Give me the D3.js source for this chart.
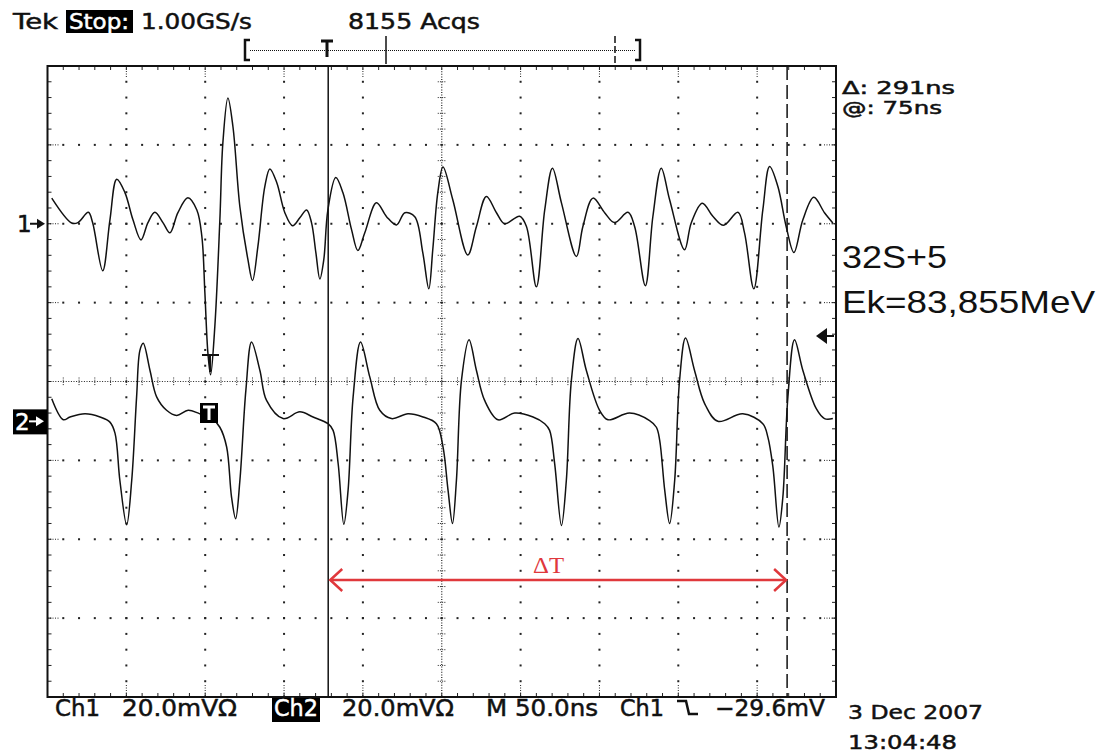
<!DOCTYPE html>
<html>
<head>
<meta charset="utf-8">
<script src="https://cdn.jsdelivr.net/npm/d3@7"></script>
<style>
  html, body { margin: 0; padding: 0; background: #fff; }
  svg { display: block; }
</style>
</head>
<body>
<div id="scope"></div>
<script>
// Oscilloscope capture: two channels, 50 ns/div, 20 mV/div

// time in ns, voltage in mV (relative to each channel's ground marker)
var ch1Trace = [
  [2.7, 6.5], [15.3, 0.2], [19.3, 0.3], [25.9, 2.9], [28.6, 0.3], [35.0, -11.9],
  [39.6, 1.0], [43.9, 11.3], [49.1, 7.9], [54.2, 1.0], [59.3, -4.1], [63.7, 0.3],
  [68.1, 2.9], [73.2, 0.3], [77.6, -2.3], [82.7, 2.8], [89.0, 6.6], [94.7, 3.5],
  [97.9, -3.3], [99.8, -17.5], [101.7, -32.7], [103.4, -38.3], [106.1, -26.1],
  [109.3, 1.0], [111.2, 20.5], [114.4, 31.9], [117.6, 24.6], [122.0, 4.3],
  [127.1, -9.1], [130.0, -14.4], [133.4, -5.8], [137.8, 9.4], [141.0, 13.9],
  [145.4, 10.4], [150.5, 2.8], [155.4, -0.5], [160.0, 1.5], [164.3, 3.5],
  [167.4, 0.3], [170.2, -7.4], [172.7, -14.0], [175.2, -9.1], [177.8, 3.5],
  [182.8, 11.7], [187.3, 7.9], [192.8, -1.5], [196.8, -6.8], [201.2, -2.3],
  [208.6, 5.3], [215.0, 1.8], [221.3, -0.3], [226.6, 2.8], [232.9, 1.8],
  [238.0, -7.4], [241.8, -16.5], [244.3, -6.6], [247.5, 7.9], [250.8, 14.4],
  [257.0, 6.1], [266.5, -7.9], [272.0, -0.7], [278.3, 6.9], [284.7, 2.8],
  [289.9, 0.0], [299.4, 1.9], [303.7, -0.7], [310.0, -16.0], [315.3, 3.5],
  [320.2, 14.1], [325.9, 5.3], [335.4, -8.3], [339.5, -0.7], [345.9, 6.5],
  [353.3, 2.8], [359.6, 0.3], [368.1, 2.9], [372.3, -0.7], [379.1, -15.7],
  [383.9, 1.9], [389.2, 14.1], [394.5, 6.1], [404.0, -6.6], [408.2, 0.2],
  [415.2, 5.2], [421.9, 1.9], [428.7, -0.4], [437.8, 2.9], [442.0, -2.3],
  [447.9, -16.5], [453.6, 3.5], [457.9, 14.5], [463.1, 9.5], [468.4, -0.7],
  [473.3, -7.3], [479.0, 1.0], [485.9, 6.7], [492.7, 2.8], [498.0, 0.2]
]

var ch2Trace = [
  [2.7, 5.2], [10.0, -0.1], [14.3, 0.6], [23.8, 1.4], [33.3, 0.6], [39.6, -0.7],
  [42.8, -3.5], [45.9, -15.5], [50.2, -26.7], [53.4, -15.5], [56.5, 5.7],
  [58.6, 17.5], [60.7, 19.3], [65.0, 12.4], [69.2, 5.7], [75.5, 2.3], [81.9, 1.0],
  [89.2, 2.3], [96.6, 1.4], [104.2, 0.3], [109.3, -2.0], [113.6, -7.0],
  [116.7, -19.7], [119.3, -25.2], [122.0, -15.5], [125.8, 7.4], [129.4, 19.6],
  [134.7, 12.4], [138.9, 4.8], [149.4, 0.2], [160.0, 1.9], [168.4, 0.6],
  [177.9, -1.1], [181.1, -2.8], [184.3, -11.2], [187.9, -26.6], [190.6, -18.0],
  [193.8, 5.7], [198.5, 19.6], [204.4, 10.7], [210.7, 2.3], [218.1, 0.2],
  [228.6, 1.4], [238.1, 0.6], [246.6, -1.1], [250.8, -7.0], [254.0, -18.0],
  [256.8, -26.4], [259.3, -15.5], [262.5, 9.9], [267.3, 20.2], [272.0, 12.4],
  [277.2, 4.8], [285.7, -0.1], [296.3, 1.6], [307.9, 0.6], [315.3, -1.1],
  [318.4, -2.8], [321.6, -11.2], [325.9, -26.9], [329.0, -15.5], [332.2, 9.9],
  [336.4, 20.5], [341.7, 12.4], [350.1, 2.3], [355.4, -0.1], [369.1, 1.6],
  [381.8, -0.3], [386.1, -2.0], [388.2, -5.3], [391.4, -18.0], [394.5, -26.4],
  [397.7, -15.5], [400.8, 9.9], [404.6, 20.6], [410.3, 12.4], [416.7, 4.0],
  [425.1, -0.5], [440.9, 1.4], [453.6, -1.1], [456.8, -4.5], [460.0, -12.1],
  [463.8, -27.3], [466.3, -19.7], [469.5, 5.7], [473.7, 20.2], [479.0, 12.4],
  [487.5, 2.7], [492.7, 0.2], [498.0, 0.2]
]

// vertical position of each channel's ground marker, in divisions from centre
var channelPos = [2, -0.48]
var voltsPerDiv = [20, 20]

// time/div and the two cursors (ns)
var timePerDiv = 50
var cursors = [178, 469]

// screen text
var headerText = ['Tek', 'Stop:', '1.00GS/s', '8155 Acqs']
var footerText = ['Ch1', '20.0mV\u03a9', 'Ch2', '20.0mV\u03a9', 'M 50.0ns', 'Ch1', '\u221229.6mV']
var dateText = ['3 Dec 2007', '13:04:48']
var cursorText = ['\u0394: 291ns', '@: 75ns']
var noteText = ['32S+5', 'Ek=83,855MeV']

var W = 1104, H = 755
var L = 47.5, R = 836, T = 66, B = 697

var svg = d3.select('#scope').append('svg')
  .attr('width', W).attr('height', H)

var x = d3.scaleLinear().domain([0, 10 * timePerDiv]).range([L, R])
var xDiv = d3.scaleLinear().domain([0, 10]).range([L, R])
var yDiv = d3.scaleLinear().domain([-4, 4]).range([B, T])

var minorX = d3.range(0, 10.001, 0.2)
var minorY = d3.range(-4, 4.001, 0.2)

// ---- graticule ----
var grid = svg.append('g')

// dotted major lines (every minor step)
d3.range(1, 10).filter(function(i) { return i !== 5 }).forEach(function(i) {
  grid.selectAll(null).data(minorY.slice(1, -1)).enter().append('rect')
    .attr('x', xDiv(i) - 1).attr('y', function(d) { return yDiv(d) - 1 })
    .attr('width', 2).attr('height', 2).attr('fill', '#222')
  grid.append('line').attr('y1', T).attr('y2', T + 12).attr('x1', xDiv(i)).attr('x2', xDiv(i))
    .attr('stroke', '#222').attr('stroke-dasharray', '1,1.5')
  grid.append('line').attr('y1', B - 12).attr('y2', B).attr('x1', xDiv(i)).attr('x2', xDiv(i))
    .attr('stroke', '#222').attr('stroke-dasharray', '1,1.5')
})
d3.range(-3, 4).filter(function(j) { return j !== 0 }).forEach(function(j) {
  grid.selectAll(null).data(minorX.slice(1, -1)).enter().append('rect')
    .attr('x', function(d) { return xDiv(d) - 1 }).attr('y', yDiv(j) - 1)
    .attr('width', 2).attr('height', 2).attr('fill', '#222')
  // short dotted stubs at the borders
  grid.append('line').attr('x1', L).attr('x2', L + 12).attr('y1', yDiv(j)).attr('y2', yDiv(j))
    .attr('stroke', '#222').attr('stroke-dasharray', '1,1.5')
  grid.append('line').attr('x1', R - 12).attr('x2', R).attr('y1', yDiv(j)).attr('y2', yDiv(j))
    .attr('stroke', '#222').attr('stroke-dasharray', '1,1.5')
})

// centre lines with ticks
grid.append('line')
  .attr('x1', xDiv(5)).attr('x2', xDiv(5)).attr('y1', T).attr('y2', B)
  .attr('stroke', '#222').attr('stroke-width', 1.2).attr('stroke-dasharray', '1,1.6')
grid.append('line')
  .attr('x1', L).attr('x2', R).attr('y1', yDiv(0)).attr('y2', yDiv(0))
  .attr('stroke', '#222').attr('stroke-width', 1.2).attr('stroke-dasharray', '1,1.6')
grid.selectAll(null).data(minorY).enter().append('line')
  .attr('x1', xDiv(5) - 4).attr('x2', xDiv(5) + 4)
  .attr('y1', function(d) { return yDiv(d) }).attr('y2', function(d) { return yDiv(d) })
  .attr('stroke', '#222').attr('stroke-dasharray', '1,1.2')
grid.selectAll(null).data(minorX).enter().append('line')
  .attr('y1', yDiv(0) - 4).attr('y2', yDiv(0) + 4)
  .attr('x1', function(d) { return xDiv(d) }).attr('x2', function(d) { return xDiv(d) })
  .attr('stroke', '#222').attr('stroke-dasharray', '1,1.2')

// border ticks
grid.selectAll(null).data(minorX).enter().append('line')
  .attr('x1', function(d) { return xDiv(d) }).attr('x2', function(d) { return xDiv(d) })
  .attr('y1', T).attr('y2', T + 4).attr('stroke', '#222')
grid.selectAll(null).data(minorX).enter().append('line')
  .attr('x1', function(d) { return xDiv(d) }).attr('x2', function(d) { return xDiv(d) })
  .attr('y1', B - 4).attr('y2', B).attr('stroke', '#222')
grid.selectAll(null).data(minorY).enter().append('line')
  .attr('y1', function(d) { return yDiv(d) }).attr('y2', function(d) { return yDiv(d) })
  .attr('x1', L).attr('x2', L + 4).attr('stroke', '#222')
grid.selectAll(null).data(minorY).enter().append('line')
  .attr('y1', function(d) { return yDiv(d) }).attr('y2', function(d) { return yDiv(d) })
  .attr('x1', R - 4).attr('x2', R).attr('stroke', '#222')

// frame
svg.append('rect')
  .attr('x', L).attr('y', T).attr('width', R - L).attr('height', B - T)
  .attr('fill', 'none').attr('stroke', '#111').attr('stroke-width', 2)

// ---- cursors ----
svg.append('line')
  .attr('x1', x(cursors[0])).attr('x2', x(cursors[0])).attr('y1', T).attr('y2', B)
  .attr('stroke', '#111').attr('stroke-width', 1.5)
svg.append('line')
  .attr('x1', x(cursors[1])).attr('x2', x(cursors[1])).attr('y1', T).attr('y2', B)
  .attr('stroke', '#111').attr('stroke-width', 1.5).attr('stroke-dasharray', '14,5')

// ---- traces ----
function traceLine(ch) {
  return d3.line()
    .x(function(d) { return x(d[0]) })
    .y(function(d) { return yDiv(channelPos[ch] + d[1] / voltsPerDiv[ch]) })
    .curve(d3.curveCatmullRom.alpha(0.5))
}
svg.append('path').datum(ch1Trace).attr('d', traceLine(0))
  .attr('fill', 'none').attr('stroke', '#111').attr('stroke-width', 1.5)
svg.append('path').datum(ch2Trace).attr('d', traceLine(1))
  .attr('fill', 'none').attr('stroke', '#111').attr('stroke-width', 1.5)

// ---- text helper ----
function label(str, px, py, w, size, opt) {
  opt = opt || {}
  var fill = opt.fill || '#111'
  var t = svg.append('text')
    .attr('x', px).attr('y', py)
    .attr('font-family', opt.family || '"DejaVu Sans", sans-serif')
    .attr('font-size', size)
    .attr('fill', fill)
    .attr('stroke', fill).attr('stroke-width', opt.heavy === false ? 0 : 0.5)
    .text(str)
  if (w) t.attr('textLength', w).attr('lengthAdjust', 'spacingAndGlyphs')
  return t
}
function invBox(px, py, w, h) {
  svg.append('rect').attr('x', px).attr('y', py).attr('width', w).attr('height', h).attr('fill', '#000')
}

// header
label(headerText[0], 13, 29, 45, 21)
invBox(66, 10, 67, 23)
label(headerText[1], 69, 29, 60, 21, { fill: '#fff' })
label(headerText[2], 141, 29, 111, 21)
label(headerText[3], 348, 29, 132, 21)

// record bar
var bar = svg.append('g').attr('fill', 'none').attr('stroke', '#111')
bar.append('path').attr('d', 'M250,40 H245 V60 H250').attr('stroke-width', 2.5)
bar.append('path').attr('d', 'M635,40 H640 V60 H635').attr('stroke-width', 2.5)
bar.append('line').attr('x1', 250).attr('x2', 635).attr('y1', 50.5).attr('y2', 50.5)
  .attr('stroke-dasharray', '1,1')
bar.append('path').attr('d', 'M321,41 H333 M327,41 V57').attr('stroke-width', 3)
bar.append('line').attr('x1', 386).attr('x2', 386).attr('y1', 36).attr('y2', 64).attr('stroke-width', 1.5)
bar.append('line').attr('x1', 615).attr('x2', 615).attr('y1', 36).attr('y2', 64).attr('stroke-width', 1.5)
  .attr('stroke-dasharray', '7,3')

// channel ground markers
var g1 = yDiv(channelPos[0]), g2 = yDiv(channelPos[1])
label('1', 17, g1 + 8, null, 23)
svg.append('path').attr('d', 'M30,' + g1 + ' H40').attr('stroke', '#111').attr('stroke-width', 2)
svg.append('path').attr('d', 'M37,' + (g1 - 5) + ' L45,' + g1 + ' L37,' + (g1 + 5) + 'Z').attr('fill', '#111')
invBox(13, g2 - 10, 34, 25)
label('2', 15, g2 + 11, null, 23, { fill: '#fff' })
svg.append('path').attr('d', 'M29,' + (g2 + 2) + ' H39').attr('stroke', '#fff').attr('stroke-width', 2)
svg.append('path').attr('d', 'M36,' + (g2 - 3) + ' L44,' + (g2 + 2) + ' L36,' + (g2 + 7) + 'Z').attr('fill', '#fff')

// trigger markers
svg.append('path').attr('d', 'M202,355 H219 M210,355 V372').attr('stroke', '#111').attr('stroke-width', 2).attr('fill', 'none')
invBox(200, 403, 18, 20)
svg.append('path').attr('d', 'M203,407 H215 M209,407 V420').attr('stroke', '#fff').attr('stroke-width', 3).attr('fill', 'none')
svg.append('path').attr('d', 'M816,336 L827,328 L827,344 Z').attr('fill', '#111')
svg.append('line').attr('x1', 825).attr('x2', 834).attr('y1', 336).attr('y2', 336).attr('stroke', '#111').attr('stroke-width', 2)

// footer
label(footerText[0], 55, 716, 45, 23)
label(footerText[1], 122, 716, 115, 23)
invBox(272, 698, 48, 24)
label(footerText[2], 274, 716, 44, 23, { fill: '#fff' })
label(footerText[3], 342, 716, 112, 23)
label(footerText[4], 486, 716, 112, 23)
label(footerText[5], 620, 716, 44, 23)
svg.append('path').attr('d', 'M677,701 H686 L689,714 H698').attr('fill', 'none').attr('stroke', '#111').attr('stroke-width', 2.5)
label(footerText[6], 715, 716, 110, 23)
label(dateText[0], 848, 719, 135, 20)
label(dateText[1], 848, 749, 109, 20)

// cursor readout
label(cursorText[0], 842, 94, 113, 17)
label(cursorText[1], 842, 114, 100, 17)

// notes
label(noteText[0], 842, 268, 105, 32, { family: '"Liberation Sans", Arial, sans-serif', heavy: false })
label(noteText[1], 842, 313, 253, 32, { family: '"Liberation Sans", Arial, sans-serif', heavy: false })

// delta-T arrow between cursors
var red = '#e0383c', ay = 580
var ax1 = x(cursors[0]) + 2, ax2 = x(cursors[1]) - 1
svg.append('line').attr('x1', ax1).attr('x2', ax2).attr('y1', ay).attr('y2', ay)
  .attr('stroke', red).attr('stroke-width', 2.5)
svg.append('path').attr('d', 'M' + (ax1 + 12) + ',' + (ay - 11) + ' L' + ax1 + ',' + ay + ' L' + (ax1 + 12) + ',' + (ay + 11))
  .attr('fill', 'none').attr('stroke', red).attr('stroke-width', 2.5)
svg.append('path').attr('d', 'M' + (ax2 - 12) + ',' + (ay - 11) + ' L' + ax2 + ',' + ay + ' L' + (ax2 - 12) + ',' + (ay + 11))
  .attr('fill', 'none').attr('stroke', red).attr('stroke-width', 2.5)
label('\u0394T', 533, 573, 31, 23, { family: '"Liberation Serif", "Times New Roman", serif', fill: red, heavy: false })
</script>
</body>
</html>
